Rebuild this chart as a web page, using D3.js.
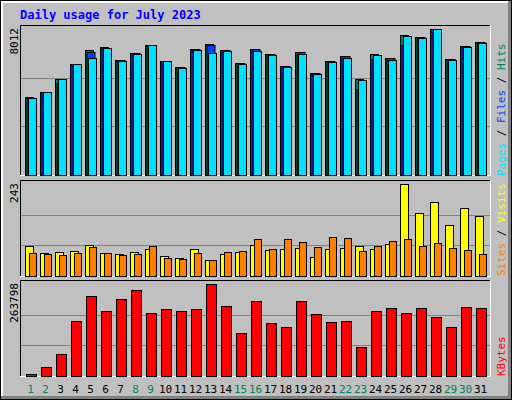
<!DOCTYPE html>
<html><head><meta charset="utf-8">
<script src="https://cdn.jsdelivr.net/npm/d3@7"></script>
<style>body{margin:0;background:#fff}svg{display:block}text{font-family:"DejaVu Sans Mono",monospace}</style>
</head><body><svg id="c" width="512" height="400"></svg>
<script>
const days = d3.range(1,32);
const weekend = [1,2,8,9,15,16,22,23,29,30];
const hits  = [4297,4570,5280,6099,6863,7027,6317,6716,7153,6263,5935,6918,7207,6863,6153,6918,6645,5990,6754,5607,6263,6536,5280,6645,6426,7682,7573,8012,6372,7082,7300];
const files = [4242,4570,5023,6099,6754,6990,6317,6716,7153,6263,5935,6918,7153,6863,6153,6918,6645,5990,6754,5607,6263,6536,4734,6372,6426,7153,7573,8012,6372,7082,7300];
const pages = [4242,4570,5280,6099,6426,6990,6262,6645,7135,6263,5880,6863,6699,6809,6099,6809,6590,5935,6645,5552,6208,6426,5225,6590,6317,7627,7518,8012,6317,7027,7245];
const visits = [80,60,63,65,81,60,58,63,71,52,47,71,42,58,63,81,68,71,73,50,71,73,79,71,84,243,166,195,134,179,158];
const sites  = [60,58,55,60,77,60,55,58,80,47,44,60,42,63,65,97,71,97,89,76,103,100,65,79,92,97,79,87,73,68,58];
const kbytes = [4900,25030,62430,157370,229300,186140,220660,246560,180390,191900,186140,191900,263798,200530,122850,214910,151620,140110,214910,177510,154500,157370,82570,186140,194770,180390,194770,168880,140110,197650,194770];
const maxLabels = ["8012","243","263798"];

const svg = d3.select("#c");
// frame
svg.append("rect").attr("x",0).attr("y",0).attr("width",512).attr("height",400).attr("fill","#000");
svg.append("rect").attr("x",1).attr("y",1).attr("width",510).attr("height",398).attr("fill","#808080");
svg.append("rect").attr("x",1).attr("y",1).attr("width",507).attr("height",395).attr("fill","#fff");
svg.append("rect").attr("x",3).attr("y",3).attr("width",505).attr("height",393).attr("fill","#c0c0c0");
svg.append("text").attr("x",20).attr("y",19).attr("fill","#0000ff").attr("font-weight","bold").attr("font-size",12).text("Daily usage for July 2023");

const x = d3.scaleLinear().domain([1,31]).range([25,475]);
const panels = [{t:25,b:176},{t:180,b:277},{t:280,b:377}];
panels.forEach(p=>{
  svg.append("rect").attr("x",20).attr("y",p.t).attr("width",470).attr("height",p.b-p.t).attr("fill","#c0c0c0");
  svg.append("path").attr("d",`M20.5,${p.b}V${p.t+.5}H490`).attr("stroke","#000").attr("fill","none");
  svg.append("path").attr("d",`M490.5,${p.t}V${p.b-.5}H20`).attr("stroke","#fff").attr("fill","none");
  const h=(p.b-1-(p.t+4));
  [1,2].forEach(k=>{const y=Math.round(p.b-1-h*k/3)+.5;
    svg.append("line").attr("x1",21).attr("x2",490).attr("y1",y).attr("y2",y).attr("stroke","#808080");});
});
function bars(data,max,p,dx,w,color){
  const y=d3.scaleLinear().domain([0,max]).range([p.b-1,p.t+4]);
  svg.append("g").selectAll("rect").data(data).join("rect")
    .attr("x",(d,i)=>x(i+1)+dx+.5).attr("y",d=>Math.round(y(d))+.5)
    .attr("width",w).attr("height",d=>Math.max(0,p.b-1-Math.round(y(d))))
    .attr("fill",color).attr("stroke","#000");
}
bars(hits,8012,panels[0],0,8,"#00805c");
bars(files,8012,panels[0],1.5,8,"#0040ff");
bars(pages,8012,panels[0],3,8,"#00e0ff");
bars(visits,243,panels[1],0,8,"#ffff00");
bars(sites,243,panels[1],4,7,"#ff8000");
bars(kbytes,263798,panels[2],1,10,"#ff0000");

// y max labels
[[28,maxLabels[0]],[183,maxLabels[1]],[283,maxLabels[2]]].forEach(([y,t])=>{
  svg.append("text").attr("transform",`translate(18,${y}) rotate(-90)`).attr("text-anchor","end").attr("font-size",11).attr("fill","#000").text(t);
});
// right legends
function legend(y,parts){
  const t=svg.append("text").attr("transform",`translate(505,${y}) rotate(-90)`).attr("text-anchor","start").attr("font-size",11);
  parts.forEach(([s,c])=>t.append("tspan").attr("fill",c).text(s));
}
legend(176,[["Pages","#00e0ff"],[" / ","#000"],["Files","#0040ff"],[" / ","#000"],["Hits","#00805c"]]);
legend(276,[["Sites","#ff8000"],[" / ","#000"],["Visits","#ffff00"]]);
legend(376,[["KBytes","#ff0000"]]);
// day labels
svg.append("g").selectAll("text").data(days).join("text")
  .attr("x",d=>x(d)+5.5).attr("y",393).attr("text-anchor","middle").attr("font-size",11)
  .attr("fill",d=>weekend.includes(d)?"#00805c":"#000").text(d=>d);
</script></body></html>
